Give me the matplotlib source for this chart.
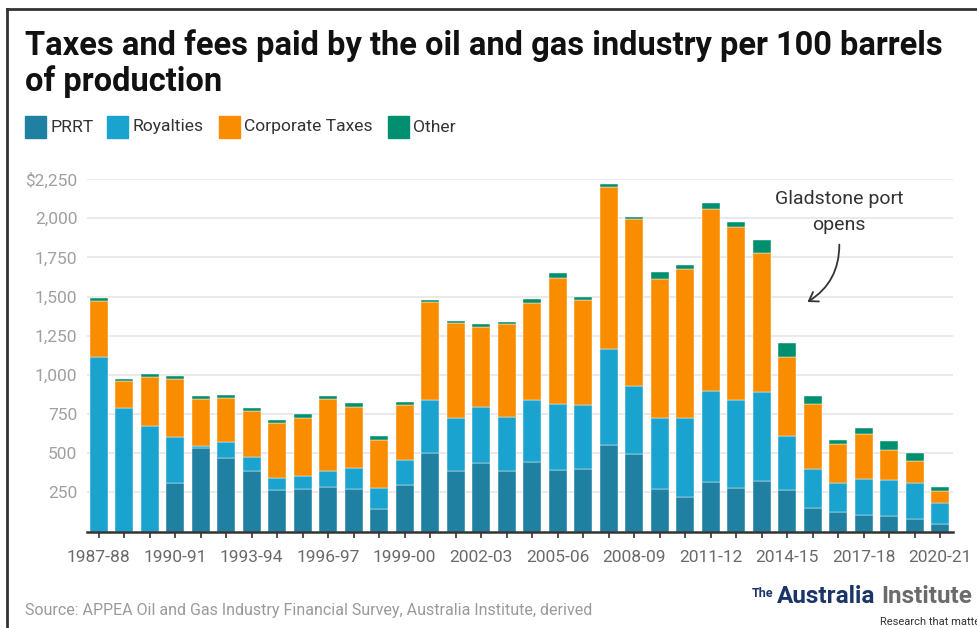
import numpy as np
import matplotlib.pyplot as plt
from matplotlib.patches import Rectangle, FancyArrowPatch
from matplotlib.lines import Line2D

plt.rcParams['font.family'] = ['Roboto', 'DejaVu Sans']

years = [f"{y}-{str(y + 1)[-2:]}" for y in range(1987, 2021)]
prrt = [0, 0, 0, 312, 531, 471, 388, 265, 269, 286, 269, 146, 299, 503, 386, 437, 386,
        444, 393, 399, 554, 495, 273, 220, 314, 280, 322, 265, 150, 124, 107, 99, 82, 48]
royalties = [1116, 790, 673, 289, 17, 98, 87, 76, 87, 98, 134, 134, 157, 336, 340, 360, 347,
             395, 421, 406, 611, 434, 454, 507, 585, 559, 569, 342, 251, 186, 228, 228, 228, 132]
corporate = [357, 170, 311, 375, 298, 283, 292, 349, 370, 460, 392, 302, 353, 628, 605, 511, 589,
             619, 806, 673, 1032, 1064, 885, 949, 1160, 1107, 885, 505, 413, 248, 285, 195, 140, 76]
other = [16, 16, 19, 14, 17, 19, 21, 19, 22, 21, 23, 30, 15, 11, 13, 14, 17,
         28, 28, 19, 23, 14, 44, 25, 36, 30, 82, 91, 51, 28, 41, 56, 51, 28]
series = ['PRRT', 'Royalties', 'Corporate Taxes', 'Other']
colors = ['#1f80a2', '#1ba3cf', '#fa8c00', '#00906f']
yticks = [250, 500, 750, 1000, 1250, 1500, 1750, 2000, 2250]

W, H = 977, 628
fig = plt.figure(figsize=(W / 100, H / 100), dpi=100)
ax = fig.add_axes([87 / W, 1 - 531.5 / H, (953 - 87) / W, (531.5 - 179) / H])

x = np.arange(len(years))
bottom = np.zeros(len(years))
for vals, c in zip([prrt, royalties, corporate, other], colors):
    ax.bar(x, vals, bottom=bottom, width=0.69, color=c, edgecolor='white', linewidth=0.3, zorder=3)
    bottom += np.array(vals)

ax.set_xlim(-0.46, 33.5)
ax.set_ylim(0, 2250)
ax.set_yticks(yticks)
ax.set_yticklabels(['$2,250' if v == 2250 else f"{v:,}" for v in yticks])
ax.set_xticks(x)
ax.set_xticklabels([y if i % 3 == 0 else '' for i, y in enumerate(years)])
ax.tick_params(axis='y', length=0, pad=7, labelsize=12.5, labelcolor='#a0a0a0')
ax.tick_params(axis='x', length=4, width=1.2, color='#333333', pad=9, labelsize=12.5, labelcolor='#6a6a6a')
ax.grid(axis='y', color='#e6e6e6', linewidth=1.2, zorder=0)
for s in ['top', 'right', 'left']:
    ax.spines[s].set_visible(False)
ax.spines['bottom'].set_color('#333333')
ax.spines['bottom'].set_linewidth(1.8)
ax.spines['bottom'].set_zorder(4)

# annotation
ax.text(29.03, 2088, 'Gladstone port', ha='center', va='baseline', fontsize=14, color='#333333')
ax.text(29.03, 1924, 'opens', ha='center', va='baseline', fontsize=14, color='#333333')
arr = FancyArrowPatch((29.04, 1849), (27.7, 1456), connectionstyle='arc3,rad=-0.3',
                      arrowstyle='->,head_length=6,head_width=4', color='#333333', lw=1.3, zorder=5)
ax.add_patch(arr)

# title
fig.text(25 / W, 1 - 55 / H, 'Taxes and fees paid by the oil and gas industry per 100 barrels',
         fontsize=23.5, fontweight='bold', color='#111111', va='baseline')
fig.text(25 / W, 1 - 91.5 / H, 'of production', fontsize=23.5, fontweight='bold', color='#111111',
         va='baseline')

# legend
lx = [25, 107, 219, 388]
for px, name, c in zip(lx, series, colors):
    fig.patches.append(Rectangle((px / W, 1 - 137.5 / H), 21 / W, 21 / H, color=c,
                                 transform=fig.transFigure))
    fig.text((px + 25) / W, 1 - 127 / H, name, fontsize=12.6, color='#333333', va='center')

# source & logo
fig.text(25 / W, 1 - 615 / H, 'Source: APPEA Oil and Gas Industry Financial Survey, Australia Institute, derived',
         fontsize=11.5, color='#9a9a9a', va='baseline')
fig.text(752 / W, 1 - 597 / H, 'The', fontsize=9, color='#1b3568', va='baseline', fontweight='bold')
fig.text(777 / W, 1 - 603.3 / H, 'Australia', fontsize=17.5, color='#1b3568', va='baseline', fontweight='bold')
fig.text(881 / W, 1 - 603.3 / H, 'Institute', fontsize=17.5, color='#6b6b6b', va='baseline', fontweight='bold')
fig.text(880 / W, 1 - 625 / H, 'Research that matters', fontsize=8, color='#333333', va='baseline')

# screenshot frame
fig.add_artist(Line2D([7 / W, 7 / W], [0, 1 - 9 / H], color='#333333', lw=2, transform=fig.transFigure))
fig.add_artist(Line2D([7 / W, 1], [1 - 9 / H, 1 - 9 / H], color='#333333', lw=2, transform=fig.transFigure))

fig.savefig('out.png', dpi=100)
